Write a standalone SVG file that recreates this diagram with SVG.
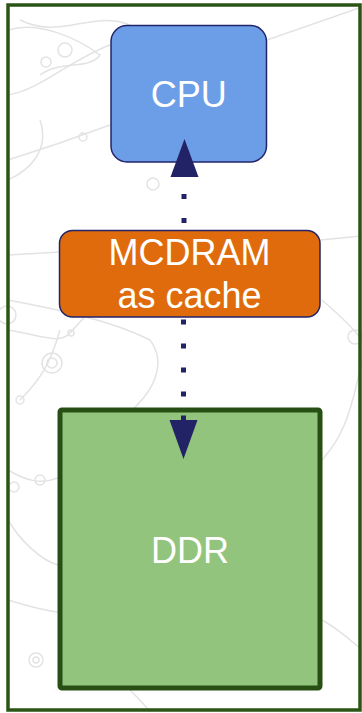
<svg xmlns="http://www.w3.org/2000/svg" width="362" height="713" viewBox="0 0 362 713">
<style>
.bg{fill:none;stroke:#e3e3e3;stroke-width:1.5}
.lbl{font-family:"Liberation Sans",Arial,sans-serif;font-size:36px;fill:#ffffff;text-anchor:middle}
.dot{fill:none;stroke:#222266;stroke-width:5;stroke-dasharray:5 19}
.head{fill:#222266}
</style>
<rect x="0" y="0" width="362" height="713" fill="#ffffff"/>
<g id="background">
<path class="bg" d="M8 30 C40 20 80 40 100 55 C90 70 60 60 40 75"/>
<path class="bg" d="M8 95 C40 90 70 60 110 45"/>
<path class="bg" d="M20 20 C60 40 90 10 130 25"/>
<path class="bg" d="M267 40 L362 7"/>
<path class="bg" d="M8 160 C40 150 70 140 110 125"/>
<path class="bg" d="M8 180 C30 170 50 150 40 120"/>
<circle class="bg" cx="65" cy="50" r="7"/>
<circle class="bg" cx="46" cy="62" r="5"/>
<circle class="bg" cx="83" cy="137" r="4"/>
<circle class="bg" cx="153" cy="184" r="6"/>
<path class="bg" d="M8 255 L60 252"/>
<path class="bg" d="M320 240 L362 236"/>
<path class="bg" d="M8 300 C60 310 110 320 150 340 C165 360 160 390 120 420"/>
<path class="bg" d="M8 330 C40 335 60 345 70 333 L100 300"/>
<path class="bg" d="M20 400 C40 380 50 365 60 330"/>
<circle class="bg" cx="7" cy="315" r="9"/>
<circle class="bg" cx="71" cy="333" r="3"/>
<circle class="bg" cx="52" cy="363" r="10"/>
<circle class="bg" cx="52" cy="363" r="5"/>
<circle class="bg" cx="20" cy="400" r="4"/>
<circle class="bg" cx="355" cy="337" r="7"/>
<path class="bg" d="M322 300 C345 320 355 330 362 340"/>
<path class="bg" d="M322 460 C340 440 350 420 362 360"/>
<path class="bg" d="M8 470 C25 480 40 485 58 478"/>
<circle class="bg" cx="14" cy="487" r="5"/>
<circle class="bg" cx="40" cy="480" r="5"/>
<path class="bg" d="M8 520 C20 540 40 560 58 565"/>
<path class="bg" d="M8 600 C25 605 40 610 58 612"/>
<circle class="bg" cx="36" cy="660" r="7"/>
<circle class="bg" cx="36" cy="660" r="3"/>
<path class="bg" d="M130 690 C140 700 145 705 150 712"/>
<path class="bg" d="M322 620 C340 630 350 640 362 650"/>
</g>
<rect id="frame" x="8" y="5" width="352" height="705" fill="none" stroke="#2b5516" stroke-width="3.5"/>
<g id="cpu">
<rect x="111" y="25.5" width="155.5" height="136.5" rx="16" fill="#6c9ee8" stroke="#22246a" stroke-width="1.5"/>
<text class="lbl" x="188.7" y="107">CPU</text>
</g>
<g id="mcdram">
<rect x="59.5" y="230.5" width="260.5" height="86.5" rx="13" fill="#e06b0c" stroke="#22246a" stroke-width="1.5"/>
<text class="lbl" x="189.5" y="265">MCDRAM</text>
<text class="lbl" x="189.5" y="308">as cache</text>
</g>
<g id="ddr">
<rect x="60" y="410" width="260" height="278" rx="2" fill="#93c47d" stroke="#274e13" stroke-width="5"/>
<text class="lbl" x="190" y="563">DDR</text>
</g>
<g id="connectors">
<path class="dot" d="M184 223 L184 177"/>
<polygon class="head" points="170.5,177 198.5,177 184.5,139"/>
<path class="dot" d="M183.5 319.5 L183.5 421"/>
<polygon class="head" points="169.5,420 197.5,420 183.5,459"/>
</g>
</svg>
